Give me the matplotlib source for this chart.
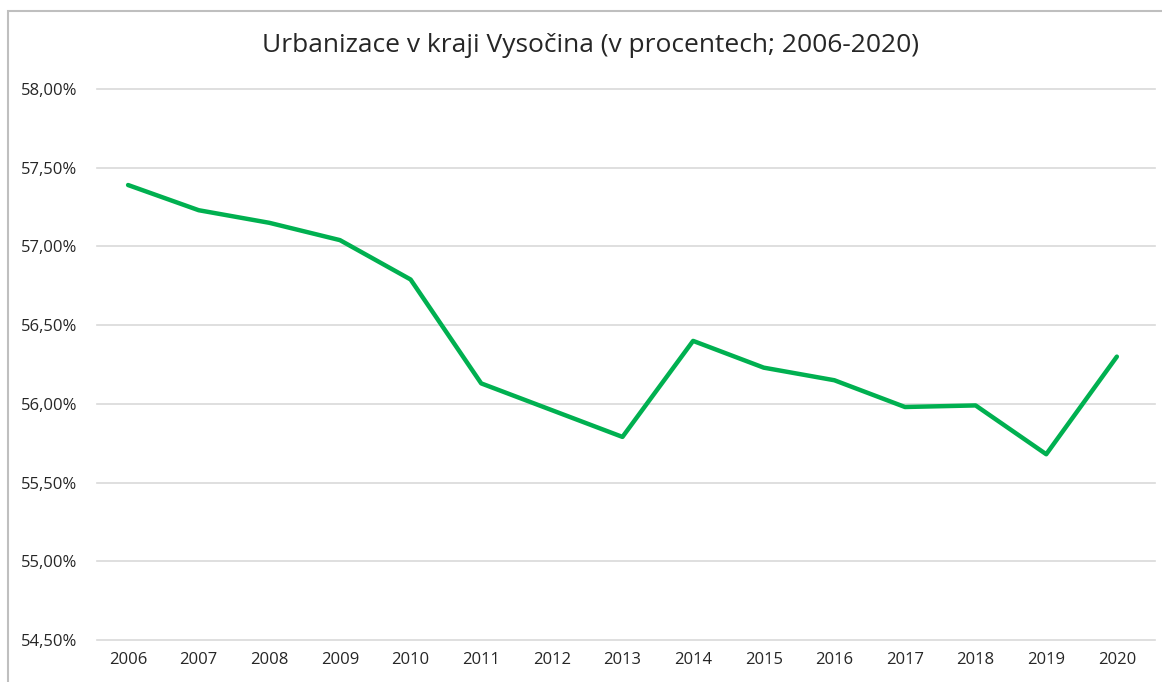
import matplotlib
matplotlib.use('agg')
import matplotlib.pyplot as plt
from matplotlib.patches import Rectangle
from matplotlib.ticker import FuncFormatter

# ------------- data ---------------------------------
years = [2006, 2007, 2008, 2009, 2010, 2011, 2012, 2013,
         2014, 2015, 2016, 2017, 2018, 2019, 2020]
urban = [57.39, 57.23, 57.15, 57.04, 56.79, 56.13, 55.96, 55.79,
         56.40, 56.23, 56.15, 55.98, 55.99, 55.68, 56.30]
yticks = [54.5, 55.0, 55.5, 56.0, 56.5, 57.0, 57.5, 58.0]

plt.rcParams['font.family'] = ['Open Sans', 'DejaVu Sans']

W, H = 1162, 682
fig = plt.figure(figsize=(W / 100, H / 100), dpi=100)
ax = fig.add_axes([97 / W, 1 - 640 / H, (1155 - 97) / W, (640 - 89) / H])

ax.plot(years, urban, color='#00B050', lw=3.2, solid_capstyle='round',
        solid_joinstyle='round')

ax.set_xlim(2005.56, 2020.54)
ax.set_ylim(54.5, 58.0)
ax.set_xticks(years)
ax.set_yticks(yticks)
ax.yaxis.set_major_formatter(
    FuncFormatter(lambda v, p: f'{v:.2f}'.replace('.', ',') + '%'))
ax.grid(True, axis='y', color='#d9d9d9', lw=1.2)
for gl in ax.get_ygridlines():
    gl.set_clip_on(False)
ax.set_axisbelow(True)
for s in ax.spines.values():
    s.set_visible(False)
ax.tick_params(length=0, labelsize=12, colors='#262626')
ax.tick_params(axis='y', pad=14)
ax.tick_params(axis='x', pad=9)

fig.text(590 / W, 1 - 46 / H, 'Urbanizace v kraji Vysočina (v procentech; 2006-2020)',
         ha='center', va='center', fontsize=19, color='#262626')

# chart frame (cropped at right and bottom)
fig.patches.append(Rectangle((8 / W, -0.1), 1.2, 1 - 11 / H + 0.1,
                             transform=fig.transFigure, fill=False,
                             edgecolor='#bfbfbf', lw=1.5))

plt.savefig('out.png', dpi=100)
